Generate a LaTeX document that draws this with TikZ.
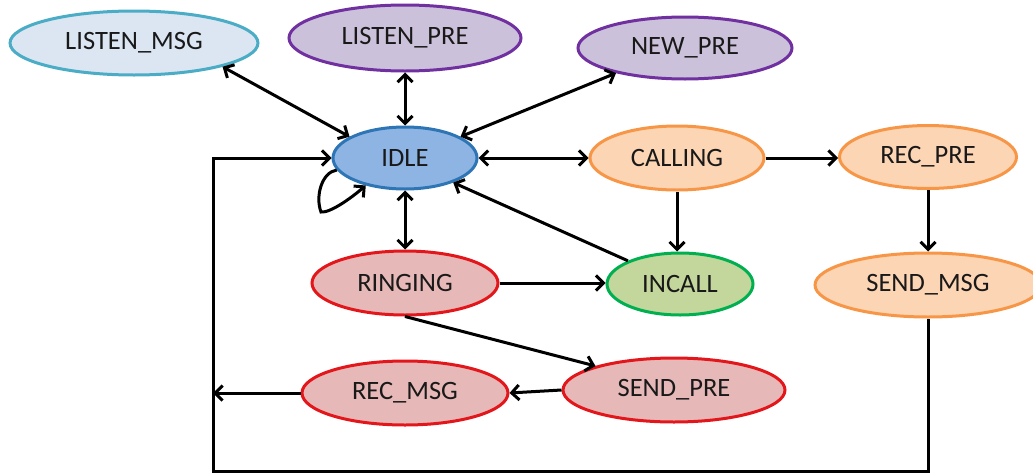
\documentclass[tikz,border=0pt]{standalone}
\usepackage{fontspec}
\setmainfont{Carlito}
\usetikzlibrary{shapes.geometric,arrows.meta}

\definecolor{msgfill}{HTML}{DCE6F2}
\definecolor{msgline}{HTML}{4BACC6}
\definecolor{prefill}{HTML}{CCC1DA}
\definecolor{preline}{HTML}{7030A0}
\definecolor{idlefill}{HTML}{8EB4E3}
\definecolor{idleline}{HTML}{2E75B6}
\definecolor{orgfill}{HTML}{FCD5B5}
\definecolor{orgline}{HTML}{F79646}
\definecolor{redfill}{HTML}{E6B9B8}
\definecolor{redline}{HTML}{E3171B}
\definecolor{grnfill}{HTML}{C3D69B}
\definecolor{grnline}{HTML}{00B050}

\tikzset{
  state/.style={ellipse, line width=3pt, inner sep=0pt,
    font=\fontsize{26.5}{30}\selectfont, text=black!90},
  listenmsg/.style={state, draw=msgline, fill=msgfill},
  purple state/.style={state, draw=preline, fill=prefill},
  idle state/.style={state, draw=idleline, fill=idlefill},
  orange state/.style={state, draw=orgline, fill=orgfill},
  red state/.style={state, draw=redline, fill=redfill},
  green state/.style={state, draw=grnline, fill=grnfill},
  link/.style={line width=3pt, draw=black},
  barb/.tip={Straight Barb[length=7.5pt,width=15pt,line width=3pt]},
  tip/.style={-barb},
  tips/.style={barb-barb}
}

\begin{document}
\begin{tikzpicture}[x=1pt,y=-1pt]
\useasboundingbox (0,0) rectangle (1033,474);
\begin{scope}
\clip (0,0) rectangle (1033,474);

% states
\node[listenmsg, minimum width=248, minimum height=64] (lmsg) at (134,43) {LISTEN\_MSG};
\node[purple state, minimum width=232, minimum height=66] (lpre) at (405,38) {LISTEN\_PRE};
\node[purple state, minimum width=214, minimum height=62] (npre) at (685,48) {NEW\_PRE};
\node[idle state, minimum width=144, minimum height=62] (idle) at (405,158) {IDLE};
\node[orange state, minimum width=174, minimum height=64] (call) at (677,158) {CALLING};
\node[orange state, minimum width=177, minimum height=63] (rpre) at (928,157) {REC\_PRE};
\node[red state, minimum width=186, minimum height=64] (ring) at (405,283) {RINGING};
\node[green state, minimum width=146, minimum height=62] (incall) at (680,284) {INCALL};
\node[orange state, minimum width=226, minimum height=64] (smsg) at (928,285) {SEND\_MSG};
\node[red state, minimum width=206, minimum height=64] (rmsg) at (405,393) {REC\_MSG};
\node[red state, minimum width=222, minimum height=64] (spre) at (674,390) {SEND\_PRE};

% return path along the border
\coordinate (tl) at (213,158);
\coordinate (bl) at (213,471);
\coordinate (br) at (928,471);
\end{scope}

% connectors around IDLE
\draw[link,tips] (lmsg.345) -- (idle.159);
\draw[link,tips] (lpre.south) -- (idle.north);
\draw[link,tips] (npre.200) -- (idle.21);
\draw[link,tips] (idle.east) -- (call.west);
\draw[link,tips] (idle.south) -- (ring.north);
\draw[link,tip] (incall.156) -- (idle.333);
\draw[link,tip] (idle.190) .. controls (322,172) and (315,196) .. (321,212)
  .. controls (330,213) and (350,199) .. (idle.215);

% calling branch
\draw[link,tip] (call.east) -- (call.east -| rpre.west);
\draw[link,tip] (call.south) -- (call.south |- incall.north);
\draw[link,tip] (rpre.south) -- (rpre.south |- smsg.north);

% ringing branch
\draw[link,tip] (ring.east) -- (ring.east -| incall.west);
\draw[link,tip] (ring.south) -- (spre.163);
\draw[link,tip] (spre.west) -- (rmsg.east);
\draw[link,tip] (rmsg.west) -- (rmsg.west -| tl);

% loop back to IDLE
\draw[link,tip,line join=miter] (smsg.south) -- (br) -- (bl) -- (tl) -- (idle.west);
\end{tikzpicture}
\end{document}
